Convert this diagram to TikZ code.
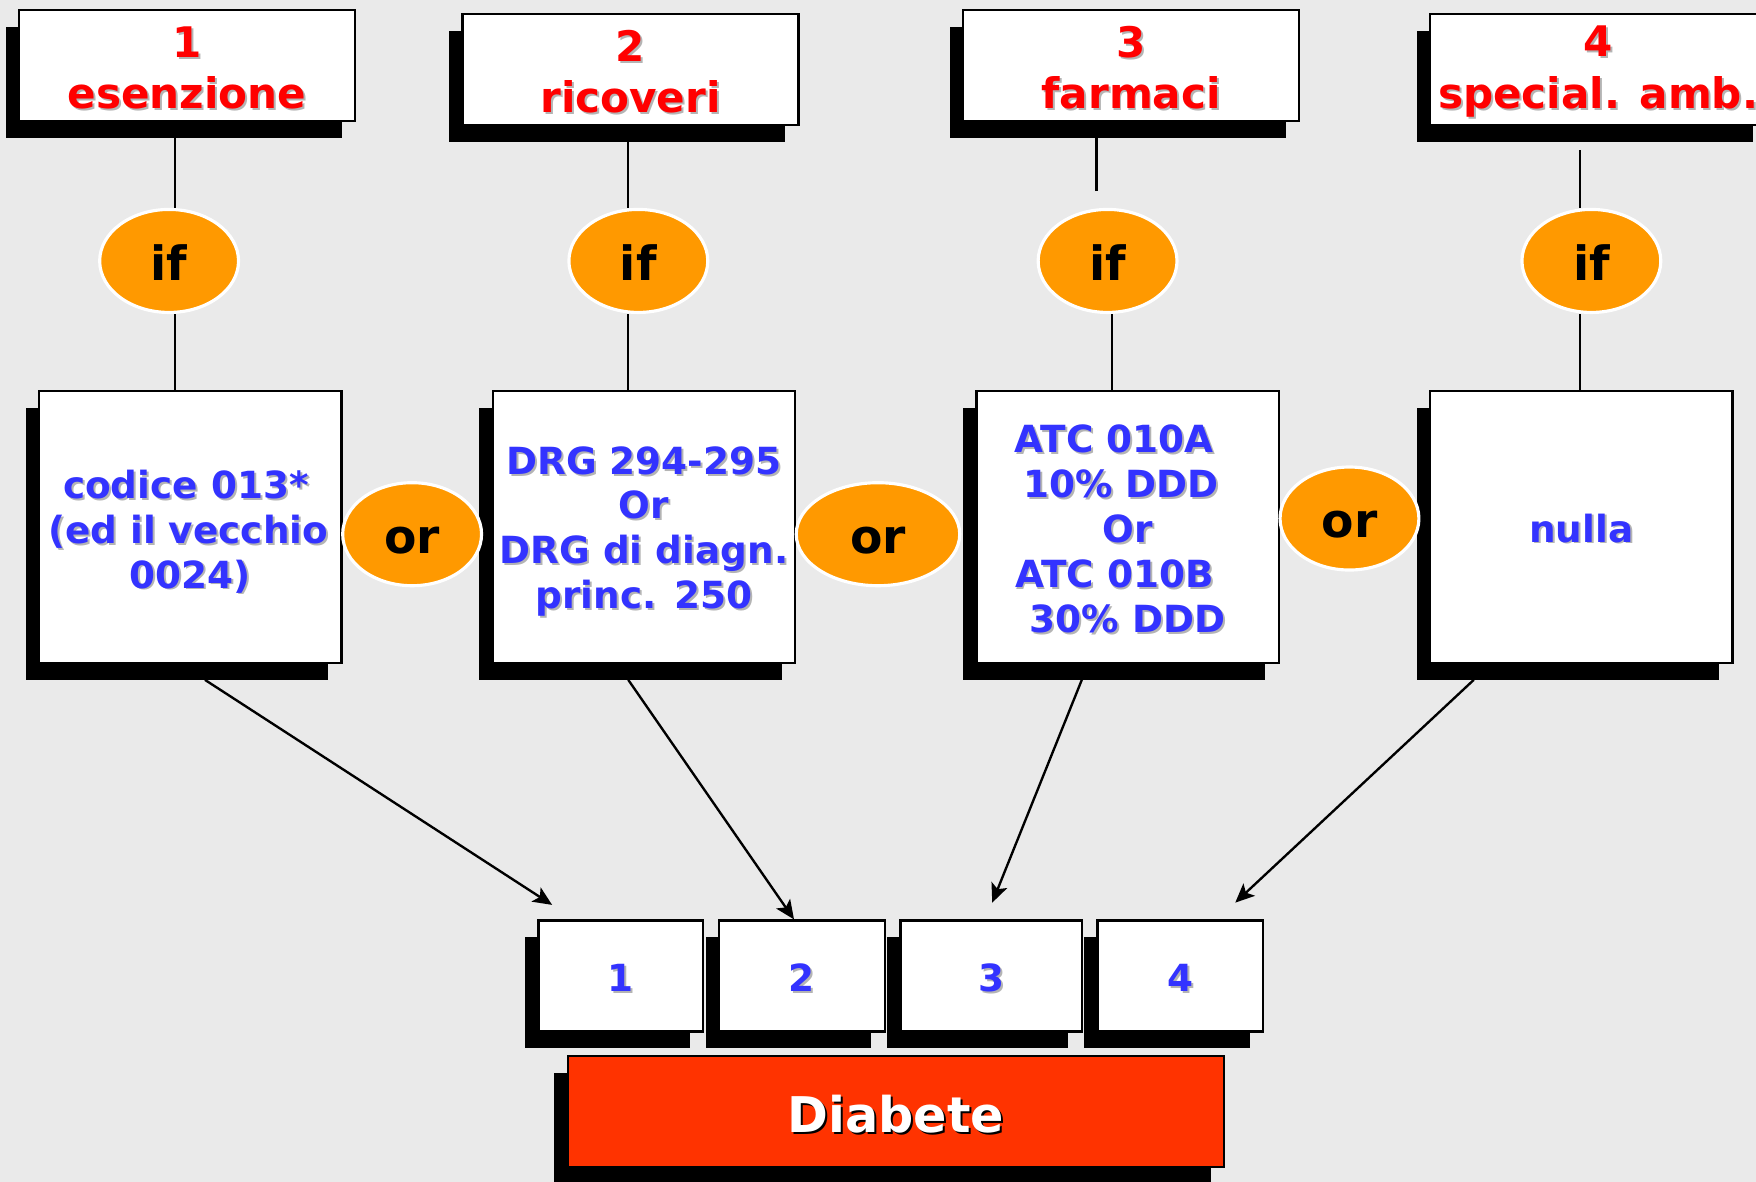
\documentclass[tikz,border=0pt]{standalone}
\usepackage{fontspec}
\setmainfont{DejaVu Sans}
\usetikzlibrary{shapes.geometric,shadows,arrows.meta}
\definecolor{bgray}{HTML}{EAEAEA}
\definecolor{ifor}{HTML}{FF9900}
\definecolor{txtblue}{HTML}{3333FF}
\definecolor{diabred}{HTML}{FF3300}
\definecolor{txtshade}{HTML}{B4B4B4}
% text with a small drop shadow
\newcommand\shd[2][txtshade]{\rlap{\hspace*{0.5pt}\raisebox{-0.5pt}{\color{#1}#2}}#2}
% taller first line, pushes the text block down a little
\newcommand\lift[1]{\rule{0pt}{#1}}
\tikzset{
  boxshadow/.style={drop shadow={shadow xshift=-1.2mm,shadow yshift=-1.5mm,fill=black,opacity=1}},
  topbox/.style={draw=black,line width=0.6pt,fill=white,boxshadow,inner sep=0pt,
    minimum width=30mm,minimum height=9.9mm,align=center,text=red,
    font=\bfseries\fontsize{10.7}{13.1}\selectfont},
  midbox/.style={draw=black,line width=0.6pt,fill=white,boxshadow,inner sep=0pt,
    minimum width=27mm,minimum height=24.3mm,align=center,text=txtblue,
    font=\bfseries\fontsize{9.5}{11.4}\selectfont},
  numbox/.style={draw=black,line width=0.6pt,fill=white,boxshadow,inner sep=0pt,
    minimum height=9.9mm,text=txtblue,font=\bfseries\fontsize{9.5}{11.4}\selectfont,
    execute at begin node={\lift{8.6pt}}},
  cond/.style={ellipse,fill=ifor,draw=white,line width=0.8pt,inner sep=0pt,
    minimum width=12.4mm,minimum height=9.2mm,font=\bfseries\fontsize{12}{14}\selectfont,
    execute at begin node={\lift{10pt}}},
  link/.style={line width=0.6pt},
  arr/.style={line width=0.6pt,-{Stealth[length=1.7mm,width=1.5mm,inset=0.4mm]}}
}
\begin{document}
\begin{tikzpicture}[x=0.1mm,y=-0.1mm]
  \useasboundingbox (0,0) rectangle (1568,1055);
  \clip (0,0) rectangle (1568,1055);
  \fill[bgray] (0,0) rectangle (1568,1055);

  % sources
  \node[topbox] (b1) at (167,58.5) {\lift{9.5pt}\shd{1}\\\shd{esenzione}};
  \node[topbox] (b2) at (563,62) {\lift{9.5pt}\shd{2}\\\shd{ricoveri}};
  \node[topbox] (b3) at (1010,58.5) {\lift{9.5pt}\shd{3}\\\shd{farmaci}};
  \node[topbox] (b4) at (1427,62) {\lift{9.5pt}\shd{4}\\\shd{special. amb.}};

  % conditions
  \node[cond] (if1) at (151,233) {if};
  \node[cond] (if2) at (570,233) {if};
  \node[cond] (if3) at (989,233) {if};
  \node[cond] (if4) at (1421,233) {if};

  \node[midbox] (m1) at (170,470.5) {\hspace*{-0.8mm}\lift{10pt}\shd{codice 013*}\\\hspace*{-0.4mm}\shd{(ed il vecchio}\\\shd{0024)}};
  \node[midbox] (m2) at (575,470.5) {\lift{9.8pt}\shd{DRG 294-295}\\\shd{Or}\\\shd{DRG di diagn.}\\\shd{princ. 250}};
  \node[midbox] (m3) at (1007,470.5) {\hspace*{-2.4mm}\lift{8.6pt}\shd{ATC 010A}\\\hspace*{-1.2mm}\shd{10\% DDD}\\\shd{Or}\\\hspace*{-2.4mm}\shd{ATC 010B}\\\shd{30\% DDD}};
  \node[midbox] (m4) at (1412,470.5) {\lift{8.3pt}\shd{nulla}};

  \node[cond] (or1) at (368,477) {or};
  \node[cond,minimum width=14.6mm] (or2) at (784,477) {or};
  \node[cond] (or3) at (1205,463) {or};

  \draw[link] ([xshift=0.5mm]if1.north) -- ([xshift=0.5mm]if1.north |- b1.south);
  \draw[link] ([xshift=-0.9mm]if2.north) -- ([xshift=-0.9mm]if2.north |- b2.south);
  \draw[link,shorten <=1.5mm] ([xshift=-1mm]if3.north) -- ([xshift=-1mm]if3.north |- b3.south);
  \draw[link,shorten >=2.1mm] ([xshift=-1mm]if4.north) -- ([xshift=-1mm]if4.north |- b4.south);

  \draw[link] ([xshift=0.5mm]if1.south) -- ([xshift=0.5mm]if1.south |- m1.north);
  \draw[link] ([xshift=-0.9mm]if2.south) -- ([xshift=-0.9mm]if2.south |- m2.north);
  \draw[link] ([xshift=0.4mm]if3.south) -- ([xshift=0.4mm]if3.south |- m3.north);
  \draw[link] ([xshift=-1mm]if4.south) -- ([xshift=-1mm]if4.south |- m4.north);

  % result
  \node[numbox,minimum width=14.7mm] (s1) at (554.5,871.5) {\shd{1}};
  \node[numbox,minimum width=14.8mm] (s2) at (716,871.5) {\shd{2}};
  \node[numbox,minimum width=16.2mm] (s3) at (885,871.5) {\shd{3}};
  \node[numbox,minimum width=14.8mm] (s4) at (1054,871.5) {\shd{4}};
  \node[draw=black,line width=0.6pt,fill=diabred,boxshadow,minimum width=58.6mm,minimum height=9.9mm,
    text=white,font=\bfseries\fontsize{12.5}{15}\selectfont,
    execute at begin node={\lift{11.2pt}}] (d) at (800,992.5) {\shd[black]{Diabete}};

  \coordinate (t1) at (493,808);
  \coordinate (t3) at (886,806);
  \coordinate (t4) at (1103,806);
  \draw[arr] ([shift={(13,14)}]m1.south) -- (t1);
  \draw[arr] ([shift={(-14,14)}]m2.south) -- ([xshift=-0.7mm]s2.north);
  \draw[arr] ([shift={(-41,14)}]m3.south) -- (t3);
  \draw[arr] ([shift={(-96,14)}]m4.south) -- (t4);
\end{tikzpicture}
\end{document}
